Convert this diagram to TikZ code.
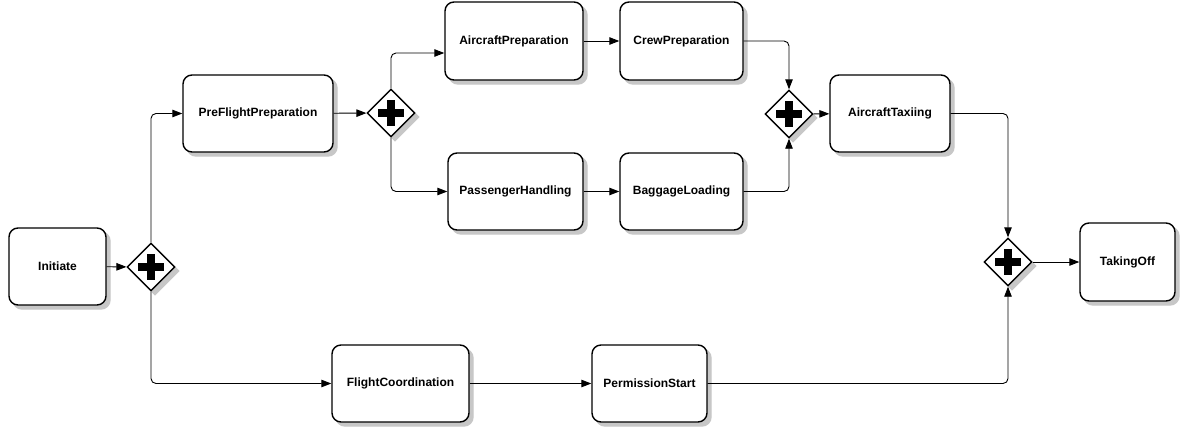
\documentclass[tikz,border=0pt]{standalone}
\usepackage{fontspec}
\setmainfont{Liberation Sans}
\usetikzlibrary{arrows.meta,shapes.geometric}
\tikzset{
  task/.style={draw,line width=1.4pt,rounded corners=9pt,fill=white,
    inner sep=0pt,font=\bfseries\fontsize{12}{14}\selectfont},
  taskshadow/.style={fill=black!22,draw=black!22,line width=1.4pt,rounded corners=9pt,inner sep=0pt},
  gate/.style={diamond,draw,line width=1.4pt,fill=white,minimum size=48pt,inner sep=0pt,
    path picture={\fill[black] (path picture bounding box.center) ++(-13pt,-3.6pt) rectangle ++(26pt,7.2pt);
      \fill[black] (path picture bounding box.center) ++(-3.6pt,-13pt) rectangle ++(7.2pt,26pt);}},
  gateshadow/.style={diamond,fill=black!22,draw=black!22,line width=1.4pt,minimum size=48pt,inner sep=0pt},
  flow/.style={-{Triangle[length=10pt,width=7.5pt]},line width=0.9pt,rounded corners=5pt}
}
\begin{document}
\begin{tikzpicture}[x=1pt,y=-1pt]
\useasboundingbox (0,0) rectangle (1181,429);
% tasks, each with its shadow underneath
\foreach \nm/\px/\py/\w/\h/\txt in {
    init/57.5/266.5/97/77/Initiate,
    pre/258/113.5/150/77/PreFlightPreparation,
    acprep/514/41/138/78/AircraftPreparation,
    crew/681.5/41/123/78/CrewPreparation,
    pax/515.5/191.5/135/77/PassengerHandling,
    bag/681.5/191.5/123/77/BaggageLoading,
    taxi/890/113.5/120/77/AircraftTaxiing,
    off/1127.5/262/95/78/TakingOff,
    fcoord/400.5/383.5/137/77/FlightCoordination,
    perm/649.5/383.5/115/77/PermissionStart}{
  \node[taskshadow,minimum width=\w pt,minimum height=\h pt] at (\px+4,\py+4) {};
  \node[task,minimum width=\w pt,minimum height=\h pt] (\nm) at (\px,\py) {\txt};
}
% gateways
\foreach \nm/\px/\py in {g1/151/267,g2/391/113,g3/789/114,g4/1008/262}{
  \node[gateshadow] at (\px+4,\py+4) {};
  \node[gate] (\nm) at (\px,\py) {};
}
% flows
\draw[flow] (init) -- (g1);
\draw[flow] (g1.north) |- (pre);
\draw[flow] (g1.south) |- (fcoord);
\draw[flow] (pre) -- (g2);
\draw[flow] (g2.north) |- ([yshift=-12pt]acprep.west);
\draw[flow] (g2.south) |- (pax);
\draw[flow] (acprep) -- (crew);
\draw[flow] (pax) -- (bag);
\draw[flow] (crew) -| (g3.north);
\draw[flow] (bag) -| (g3.south);
\draw[flow] (g3) -- (taxi);
\draw[flow] (taxi) -| (g4.north);
\draw[flow] (fcoord) -- (perm);
\draw[flow] (perm) -| (g4.south);
\draw[flow] (g4) -- (off);
\end{tikzpicture}
\end{document}
